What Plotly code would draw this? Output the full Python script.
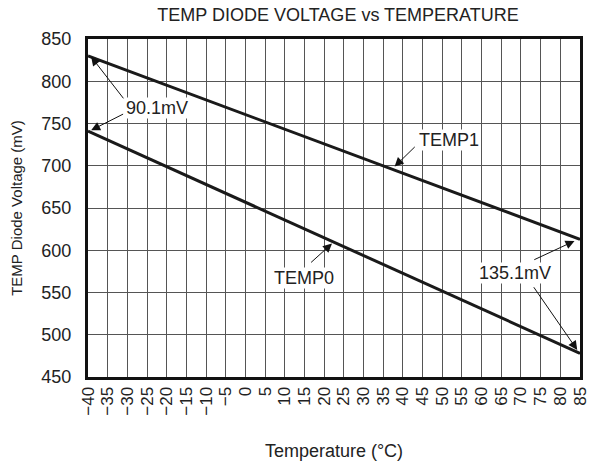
import plotly.graph_objects as go

temperature = [-40, 85]
temp1_mv = [830, 613]
temp0_mv = [741, 478]
x_ticks = list(range(-40, 90, 5))
x_tick_labels = [str(t).replace("-", "\u2212") for t in x_ticks]
y_ticks = list(range(450, 851, 50))

FONT = "Liberation Sans, Arial, sans-serif"

fig = go.Figure()
fig.add_trace(go.Scatter(x=temperature, y=temp1_mv, mode="lines",
                         line=dict(color="#1a1a1a", width=3), name="TEMP1"))
fig.add_trace(go.Scatter(x=temperature, y=temp0_mv, mode="lines",
                         line=dict(color="#1a1a1a", width=3), name="TEMP0"))

def label(x, y, text):
    fig.add_annotation(x=x, y=y, text=text, showarrow=False, bgcolor="white",
                       font=dict(size=18, color="#222", family=FONT), borderpad=0)

def arrow(x0, y0, x1, y1):
    fig.add_annotation(x=x1, y=y1, ax=x0, ay=y0, axref="x", ayref="y", xref="x", yref="y",
                       text="", showarrow=True, arrowhead=2, arrowsize=1.8,
                       arrowwidth=1, arrowcolor="#111")

label(-22.4, 768, "90.1mV")
arrow(-30.7, 778, -39.2, 829)
arrow(-30.7, 762, -39.2, 742)
label(51.7, 730, "TEMP1")
arrow(43.4, 724, 37.9, 699)
label(15.0, 567, "TEMP0")
arrow(16.3, 584, 22.0, 608)
label(68.5, 573, "135.1mV")
arrow(73.0, 588, 83.6, 611)
arrow(73.0, 558, 84.3, 482)

fig.update_layout(
    width=591, height=463,
    margin=dict(l=88, r=11, t=39, b=86),
    paper_bgcolor="white", plot_bgcolor="white",
    showlegend=False,
    font=dict(family=FONT, color="#222", size=18),
    title=dict(text="TEMP DIODE VOLTAGE vs TEMPERATURE", x=0.572, xanchor="center",
               y=0.968, yanchor="middle", font=dict(size=18, family=FONT, color="#222")),
)
fig.update_xaxes(range=[-40, 85], tickvals=x_ticks, ticktext=x_tick_labels, tickangle=-90,
                 showgrid=True, gridcolor="#555", gridwidth=1.3,
                 showline=True, linecolor="#111", linewidth=3, mirror=True,
                 zeroline=False, ticks="", tickfont=dict(size=17), automargin=False,
                 ticklabeloverflow="allow",
                 title=dict(text="Temperature (°C)", font=dict(size=18), standoff=30))
fig.update_yaxes(range=[450, 850], tickvals=y_ticks,
                 showgrid=True, gridcolor="#555", gridwidth=1.3,
                 showline=True, linecolor="#111", linewidth=3, mirror=True,
                 zeroline=False, ticks="", tickfont=dict(size=18), ticklabelstandoff=10,
                 automargin=False,
                 title=dict(text="TEMP Diode Voltage (mV)", font=dict(size=15), standoff=16))

fig.write_html("out.html", config={"displayModeBar": False},
               post_script="document.body.style.margin='0';document.body.style.overflow='hidden';")
